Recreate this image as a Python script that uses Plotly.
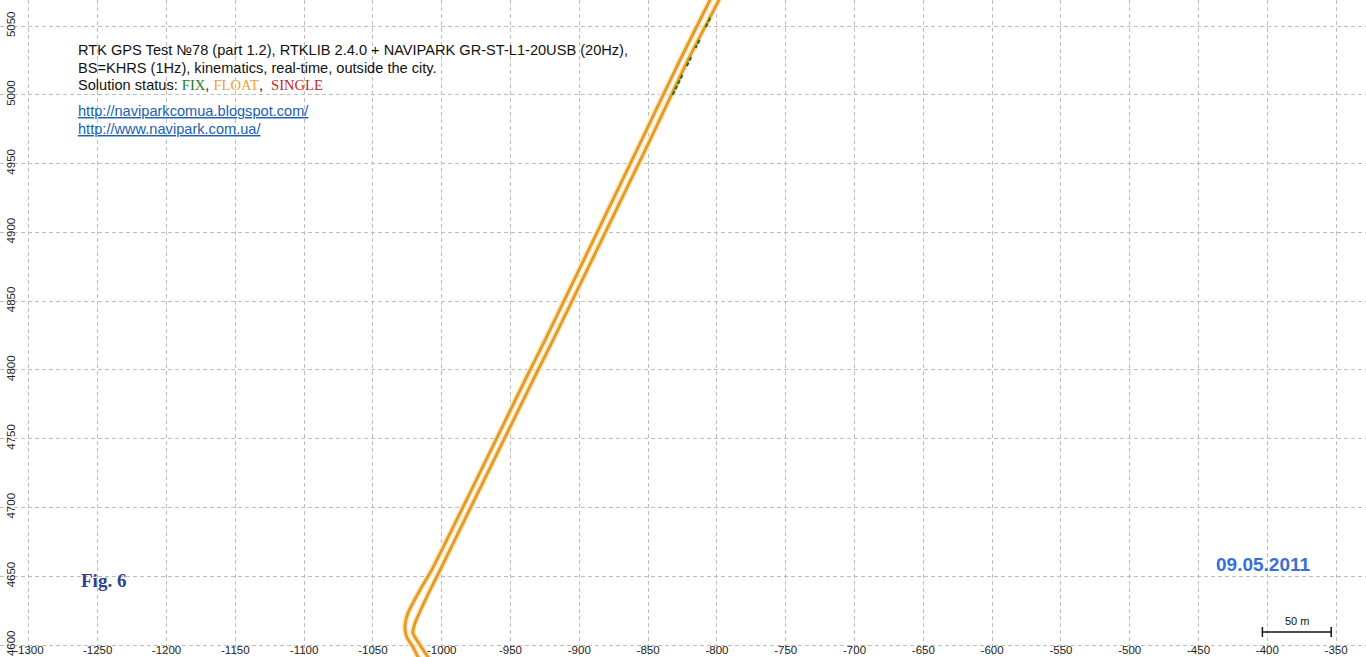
import plotly.graph_objects as go

# ---- data (local metric coordinates, m) ----
track_a_x = [-799.6, -805.0, -826.8, -854.7, -924.9, -935.8, -1007.3, -1015.8, -1024.5, -1026.7, -1025.4, -1020.9, -1017.2, -1012.9]
track_a_y = [5080.0, 5068.9, 5025.3, 4967.1, 4821.7, 4799.9, 4654.5, 4640.0, 4623.3, 4613.1, 4605.8, 4598.5, 4591.3, 4584.0]
track_b_x = [-793.0, -798.5, -821.0, -848.6, -919.1, -930.0, -1001.2, -1010.9, -1019.4, -1020.9, -1017.2, -1010.9, -1006.3]
track_b_y = [5080.0, 5068.9, 5025.3, 4967.1, 4821.7, 4799.9, 4654.5, 4634.9, 4616.0, 4608.7, 4602.2, 4592.7, 4586.2]
fix_x = [-804.9, -808.4, None, -812.6, -815.5, None, -818.7, -822.6, None, -825.1, -832.2]
fix_y = [5055.8, 5048.5, None, 5039.8, 5034.0, None, 5027.4, 5019.5, None, 5014.4, 4999.9]

x_ticks = [-1300, -1250, -1200, -1150, -1100, -1050, -1000, -950, -900, -850, -800, -750,
           -700, -650, -600, -550, -500, -450, -400, -350]
x_tick_labels = [str(v) for v in x_ticks]
y_ticks = [4600, 4650, 4700, 4750, 4800, 4850, 4900, 4950, 5000, 5050]
y_tick_labels = [str(v) for v in y_ticks]

x_range = [-1321.0, -328.3]
y_range = [4591.3, 5068.9]
scale_len = 50
scale_x0 = -403.6
scale_y = 4609.5

W, H = 1366, 657
ORANGE = "#E29B2C"
HALO = "#FCEBC0"

fig = go.Figure()
for xs, ys in [(track_a_x, track_a_y), (track_b_x, track_b_y)]:
    fig.add_trace(go.Scatter(x=xs, y=ys, mode="lines", line=dict(color=HALO, width=6, shape="spline", smoothing=0.6),
                             hoverinfo="skip", showlegend=False))
for xs, ys in [(track_a_x, track_a_y), (track_b_x, track_b_y)]:
    fig.add_trace(go.Scatter(x=xs, y=ys, mode="lines", line=dict(color=ORANGE, width=3, shape="spline", smoothing=0.6),
                             showlegend=False))
fig.add_trace(go.Scatter(x=fix_x, y=fix_y, mode="lines", line=dict(color="#1F6B1F", width=2, dash="4px,2px"),
                         showlegend=False))

def px(x, y):
    return x / W, 1 - y / H

anns = []
def text(x, y, s, size=14.6, color="#111111", family="Liberation Sans, Arial", xanchor="left"):
    xp, yp = px(x, y)
    anns.append(dict(x=xp, y=yp, xref="paper", yref="paper", text=s, showarrow=False,
                     xanchor=xanchor, yanchor="middle", font=dict(size=size, color=color, family=family)))

text(76, 50, "RTK GPS Test №78 (part 1.2), RTKLIB 2.4.0 + NAVIPARK GR-ST-L1-20USB (20Hz),")
text(76, 68, "BS=KHRS (1Hz), kinematics, real-time, outside the city.")
text(76, 85, "Solution status: "
     "<span style='font-family:Liberation Serif;color:#2A7A2A'>FIX</span>, "
     "<span style='font-family:Liberation Serif;color:#E8A33C'>FLOAT</span>,  "
     "<span style='font-family:Liberation Serif;color:#C0282D'>SINGLE</span>")
text(76, 111, "<u>http://naviparkcomua.blogspot.com/</u>", color="#2260B0")
text(76, 129, "<u>http://www.navipark.com.ua/</u>", color="#2260B0")
text(79, 580, "<b>Fig. 6</b>", size=19, color="#2F3F90", family="Liberation Serif, Times New Roman")
text(1263, 564, "<b>09.05.2011</b>", size=19, color="#3A6FD8", xanchor="center")

anns.append(dict(x=scale_x0 + scale_len / 2, y=scale_y, xref="x", yref="y", text="50 m", showarrow=False,
                 yanchor="bottom", yshift=3, font=dict(size=11, color="#111111", family="Liberation Sans, Arial")))

shapes = [
    dict(type="line", xref="x", yref="y", x0=scale_x0, x1=scale_x0 + scale_len, y0=scale_y, y1=scale_y,
         line=dict(color="#111111", width=1.5)),
    dict(type="line", xref="x", yref="y", x0=scale_x0, x1=scale_x0, y0=scale_y - 3.6, y1=scale_y + 3.6,
         line=dict(color="#111111", width=1.5)),
    dict(type="line", xref="x", yref="y", x0=scale_x0 + scale_len, x1=scale_x0 + scale_len,
         y0=scale_y - 3.6, y1=scale_y + 3.6, line=dict(color="#111111", width=1.5)),
]

tickfont = dict(size=11.5, color="#222222", family="Liberation Sans, Arial")
fig.update_layout(
    width=W, height=H, margin=dict(l=0, r=0, t=0, b=0),
    paper_bgcolor="white", plot_bgcolor="white",
    annotations=anns, shapes=shapes, showlegend=False,
    xaxis=dict(range=x_range, tickmode="array", tickvals=x_ticks, ticktext=x_tick_labels,
               showgrid=True, gridcolor="#BDBDBD", griddash="4px,3px",
               gridwidth=1, zeroline=False, showline=True, linecolor="#A8A8A8", linewidth=1, mirror=True,
               ticks="", ticklabelposition="inside", ticklabeloverflow="allow", tickfont=tickfont),
    yaxis=dict(range=y_range, tickmode="array", tickvals=y_ticks, ticktext=y_tick_labels,
               showgrid=True, gridcolor="#BDBDBD", griddash="4px,3px",
               gridwidth=1, zeroline=False, showline=True, linecolor="#A8A8A8", linewidth=1, mirror=True,
               ticks="", ticklabelposition="inside", ticklabeloverflow="allow", tickangle=-90,
               tickfont=tickfont),
)
fig.write_html("out.html", config={"displayModeBar": False},
               post_script="document.body.style.margin='0';document.body.style.overflow='hidden';")
